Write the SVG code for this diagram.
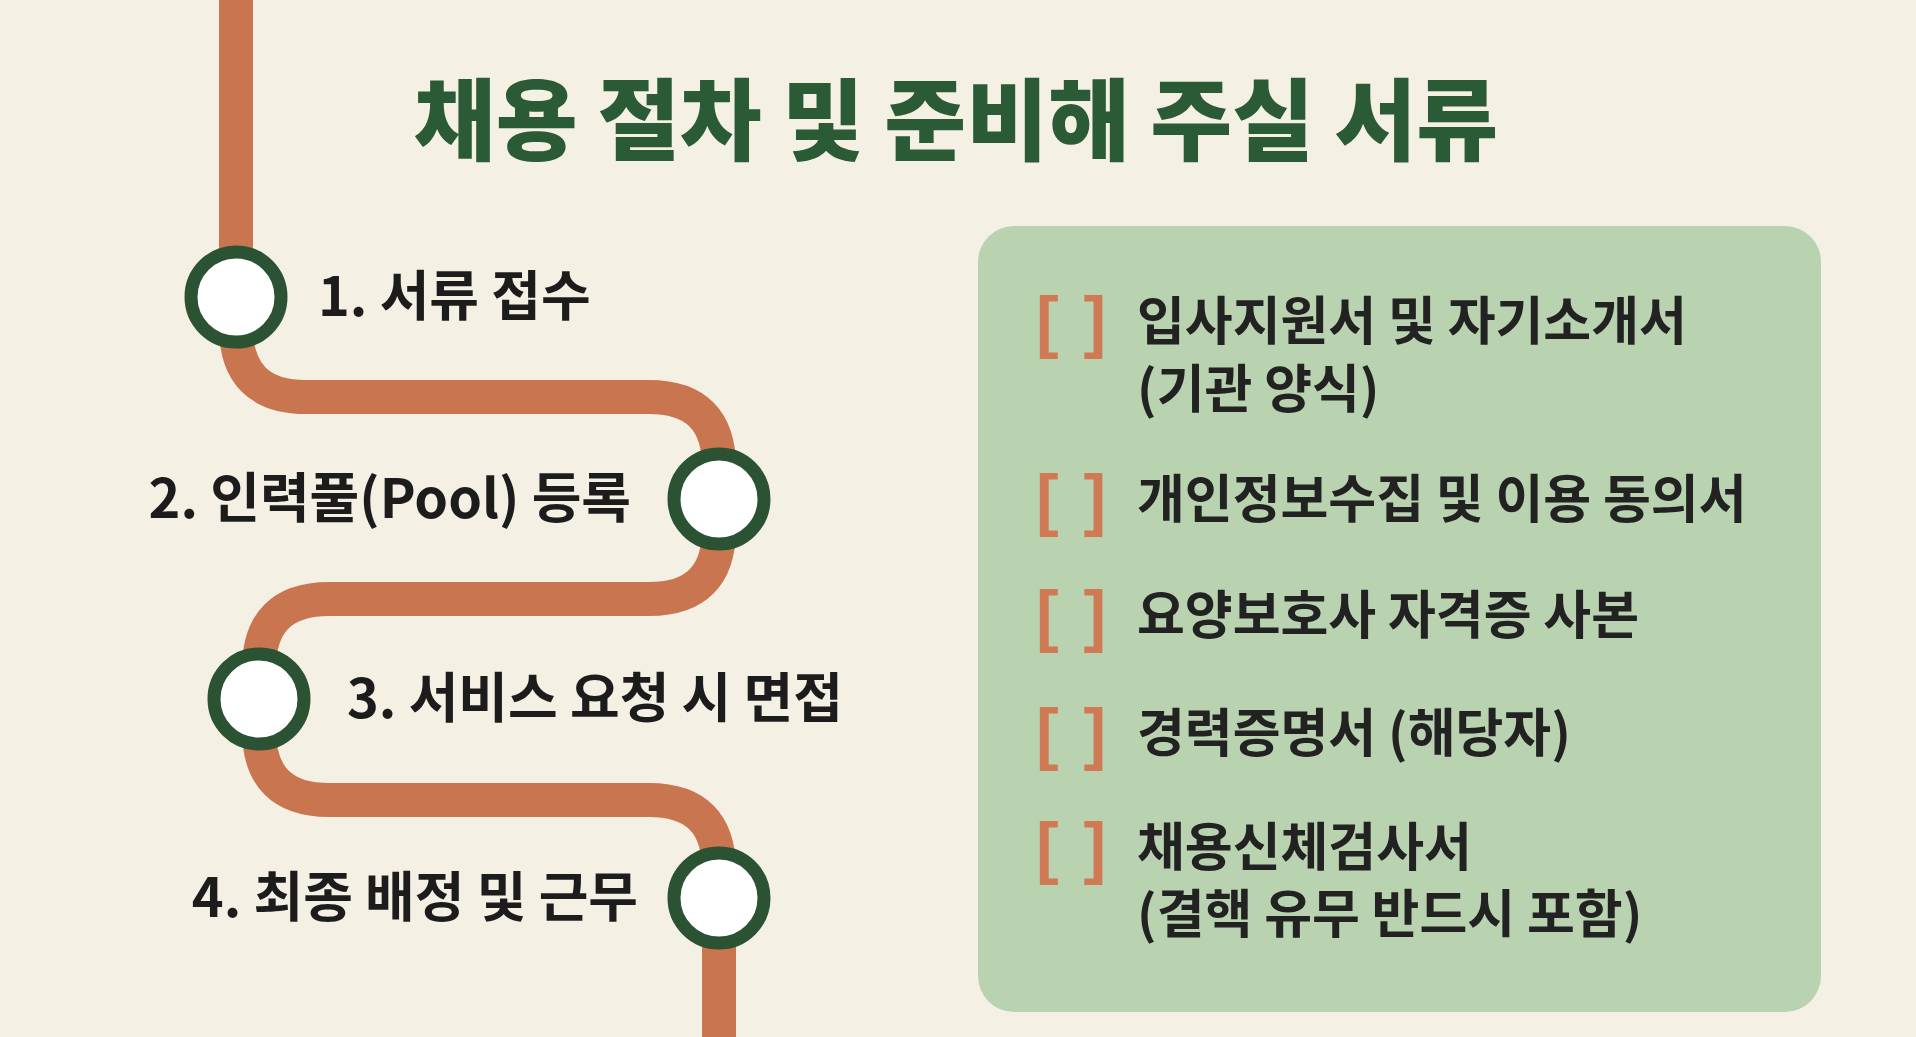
<svg xmlns="http://www.w3.org/2000/svg" width="1916" height="1037" viewBox="0 0 1916 1037">
<style>
.t{font-family:"Noto Sans CJK KR","Noto Sans",sans-serif;font-weight:700;fill:#1c1c1c}
.step{font-size:54px}
.item{font-size:52px;fill:#222}
.br{font-family:"Liberation Sans",sans-serif;font-size:68px;fill:#d07a55;font-weight:700;letter-spacing:3px}
.node{fill:#ffffff;stroke:#2a5233;stroke-width:13}
</style>
<rect width="1916" height="1037" fill="#f5f0e4"/>
<text class="t" x="956" y="153" text-anchor="middle" font-size="89" style="fill:#2b5a36;font-weight:900">채용 절차 및 준비해 주실 서류</text>
<g id="connectors">
<path d="M236 0 V327 Q236 397 306 397 H649 Q719 397 719 467 V529 Q719 599 649 599 H329 Q259 599 259 669 V730 Q259 800 329 800 H649 Q719 800 719 870 V1037" fill="none" stroke="#c87550" stroke-width="34"/>
</g>
<g id="step1"><circle class="node" cx="236" cy="297" r="45"/><text class="t step" x="318" y="316">1. 서류 접수</text></g>
<g id="step2"><circle class="node" cx="719" cy="499" r="45"/><text class="t step" x="631" y="518" text-anchor="end">2. 인력풀(Pool) 등록</text></g>
<g id="step3"><circle class="node" cx="259" cy="699" r="45"/><text class="t step" x="347" y="718">3. 서비스 요청 시 면접</text></g>
<g id="step4"><circle class="node" cx="719" cy="898" r="45"/><text class="t step" x="638" y="917" text-anchor="end">4. 최종 배정 및 근무</text></g>
<g id="checklist">
<rect x="978" y="226" width="843" height="786" rx="36" fill="#b9d3b0"/>
<text class="br" x="1036" y="345">[ ]</text>
<text class="t item" x="1137" y="340">입사지원서 및 자기소개서</text>
<text class="t item" x="1137" y="408">(기관 양식)</text>
<text class="br" x="1036" y="523">[ ]</text>
<text class="t item" x="1137" y="518">개인정보수집 및 이용 동의서</text>
<text class="br" x="1036" y="639">[ ]</text>
<text class="t item" x="1137" y="634">요양보호사 자격증 사본</text>
<text class="br" x="1036" y="757">[ ]</text>
<text class="t item" x="1137" y="752">경력증명서 (해당자)</text>
<text class="br" x="1036" y="871">[ ]</text>
<text class="t item" x="1137" y="866">채용신체검사서</text>
<text class="t item" x="1137" y="933">(결핵 유무 반드시 포함)</text>
</g>
</svg>
